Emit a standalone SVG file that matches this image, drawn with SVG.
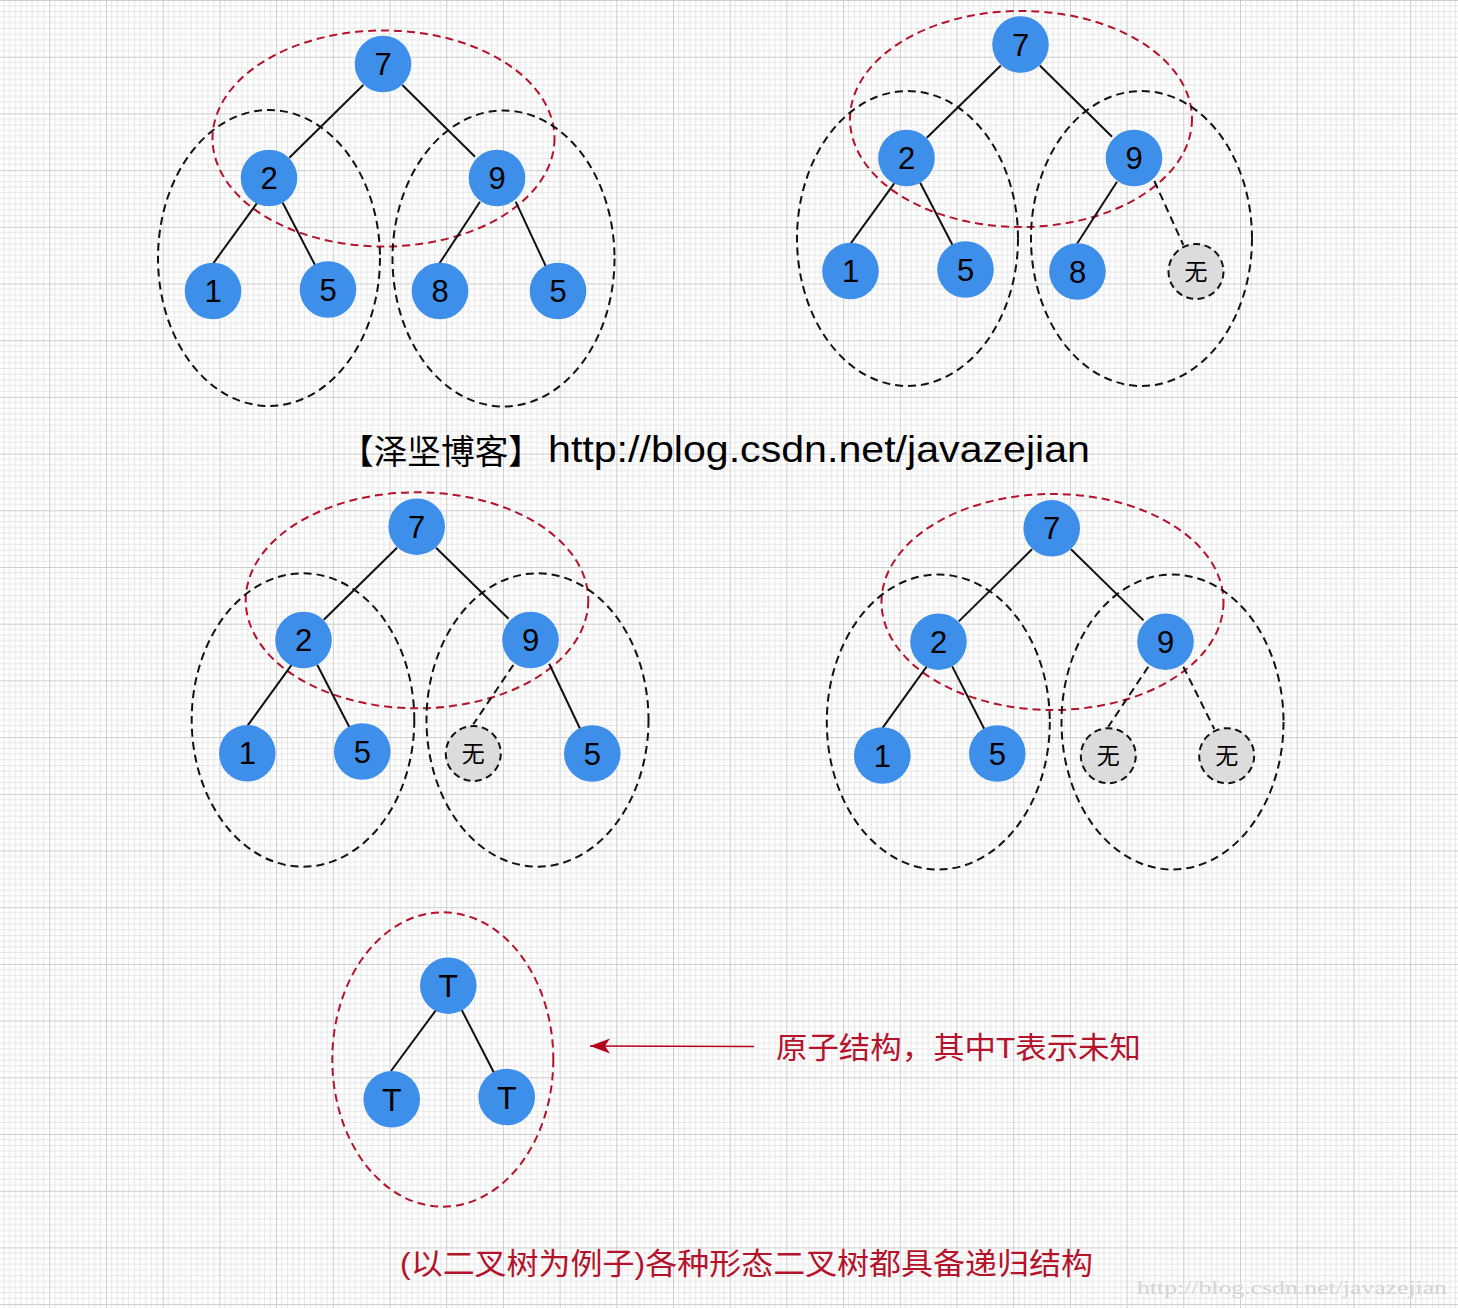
<svg xmlns="http://www.w3.org/2000/svg" width="1458" height="1308" viewBox="0 0 1458 1308">
<defs>
<pattern id="grid" patternUnits="userSpaceOnUse" x="49.3" y="0" width="56.7" height="56.7">
<path d="M5.67 0V56.7M11.34 0V56.7M17.01 0V56.7M22.68 0V56.7M28.35 0V56.7M34.02 0V56.7M39.69 0V56.7M45.36 0V56.7M51.03 0V56.7M0 5.67H56.7M0 11.34H56.7M0 17.01H56.7M0 22.68H56.7M0 28.35H56.7M0 34.02H56.7M0 39.69H56.7M0 45.36H56.7M0 51.03H56.7" stroke="#e6e6e6" stroke-width="1" fill="none"/>
<path d="M0.5 0V56.7M0 0.5H56.7" stroke="#cdcdcd" stroke-width="1" fill="none"/>
</pattern>
<marker id="arr" markerUnits="userSpaceOnUse" markerWidth="22" markerHeight="16" refX="20" refY="7.5" orient="auto">
<path d="M0,0 L20,7.5 L0,15 L5,7.5 Z" fill="#b3001b"/>
</marker>
</defs>
<style>
.bg{fill:url(#grid)}
.ered{fill:none;stroke:#b5122b;stroke-width:2;stroke-dasharray:8 5}
.eblk{fill:none;stroke:#111;stroke-width:2;stroke-dasharray:8 5}
.edge{stroke:#111;stroke-width:2;fill:none}
.edash{stroke:#111;stroke-width:2;fill:none;stroke-dasharray:8 5}
.n{fill:#3d8fe9}
.nul{fill:#dcdcdc;stroke:#111;stroke-width:2;stroke-dasharray:7 4.5}
.lbl{font-family:"Liberation Sans",Arial,sans-serif;font-size:31px;fill:#000;text-anchor:middle}
.t{font-family:"Liberation Sans",Arial,sans-serif;font-size:32px;fill:#000;text-anchor:middle}
.cj{font-family:"Noto Sans CJK SC",sans-serif;font-size:23px;fill:#000;text-anchor:middle}
.red{font-family:"Liberation Sans","Noto Sans CJK SC",sans-serif;fill:#b5122b}
</style>
<rect width="1458" height="1308" fill="#fff"/>
<rect class="bg" width="1458" height="1308"/>

<g id="groups">
<ellipse class="ered" cx="383.5" cy="138.5" rx="171" ry="108"/>
<ellipse class="eblk" cx="269" cy="258" rx="111" ry="148"/>
<ellipse class="eblk" cx="503.5" cy="258.5" rx="111" ry="148"/>
<ellipse class="ered" cx="1021" cy="119" rx="171" ry="108"/>
<ellipse class="eblk" cx="907.5" cy="238.5" rx="110.5" ry="147.5"/>
<ellipse class="eblk" cx="1141.5" cy="238.5" rx="110.5" ry="147.5"/>
<ellipse class="ered" cx="417" cy="600.3" rx="171.3" ry="108"/>
<ellipse class="eblk" cx="303" cy="720" rx="111.3" ry="146.7"/>
<ellipse class="eblk" cx="537.5" cy="720" rx="111" ry="146.7"/>
<ellipse class="ered" cx="1052.5" cy="602" rx="171" ry="108"/>
<ellipse class="eblk" cx="938.3" cy="722" rx="111.5" ry="147.5"/>
<ellipse class="eblk" cx="1172.5" cy="722" rx="111" ry="147.5"/>
<ellipse class="ered" cx="442.8" cy="1059.5" rx="110.5" ry="147.2"/>
</g>

<g id="connectors">
<line class="edge" x1="363.3" y1="85" x2="289.3" y2="157.7"/>
<line class="edge" x1="402.3" y1="85" x2="475" y2="156.7"/>
<line class="edge" x1="258" y1="201.7" x2="213.3" y2="263.3"/>
<line class="edge" x1="282.7" y1="202.7" x2="315" y2="265"/>
<line class="edge" x1="480" y1="201.7" x2="439.5" y2="263.3"/>
<line class="edge" x1="515.7" y1="201.7" x2="546" y2="266.7"/>

<line class="edge" x1="1000.8" y1="65.5" x2="926.8" y2="137.7"/>
<line class="edge" x1="1039.8" y1="65.5" x2="1112" y2="136.7"/>
<line class="edge" x1="895.5" y1="181.7" x2="850.8" y2="243.3"/>
<line class="edge" x1="920.2" y1="182.7" x2="952.5" y2="245"/>
<line class="edge" x1="1117" y1="181.7" x2="1077" y2="243.8"/>
<line class="edash" x1="1154.3" y1="181" x2="1183.3" y2="245"/>

<line class="edge" x1="397" y1="547.7" x2="323.8" y2="619.7"/>
<line class="edge" x1="436" y1="547.7" x2="508.5" y2="618.7"/>
<line class="edge" x1="292.5" y1="663.7" x2="247.6" y2="725.6"/>
<line class="edge" x1="317.2" y1="664.7" x2="349.3" y2="727"/>
<line class="edash" x1="513.3" y1="665" x2="473.3" y2="724.3"/>
<line class="edge" x1="549.2" y1="663.7" x2="580.3" y2="729.2"/>

<line class="edge" x1="1032" y1="549.3" x2="958.8" y2="621.4"/>
<line class="edge" x1="1071" y1="549.3" x2="1143.5" y2="620.4"/>
<line class="edge" x1="927.5" y1="665.4" x2="882.6" y2="727.8"/>
<line class="edge" x1="952.2" y1="666.4" x2="984.3" y2="729"/>
<line class="edash" x1="1148.3" y1="666.7" x2="1108.3" y2="726.7"/>
<line class="edash" x1="1183.3" y1="666.7" x2="1214.3" y2="729"/>

<line class="edge" x1="437.3" y1="1008.3" x2="391" y2="1071"/>
<line class="edge" x1="461.7" y1="1010" x2="494" y2="1072.7"/>

<line x1="754" y1="1046.5" x2="590" y2="1046" stroke="#b3001b" stroke-width="1.6" marker-end="url(#arr)"/>
</g>

<g id="t1-7"><circle class="n" cx="383" cy="64" r="28.3"/><text class="lbl" x="383" y="75">7</text></g>
<g id="t1-2"><circle class="n" cx="269" cy="178" r="28.3"/><text class="lbl" x="269" y="189">2</text></g>
<g id="t1-9"><circle class="n" cx="497" cy="178" r="28.3"/><text class="lbl" x="497" y="189">9</text></g>
<g id="t1-1"><circle class="n" cx="213" cy="291" r="28.3"/><text class="lbl" x="213" y="302">1</text></g>
<g id="t1-5a"><circle class="n" cx="328" cy="289.5" r="28.3"/><text class="lbl" x="328" y="300.5">5</text></g>
<g id="t1-8"><circle class="n" cx="440" cy="291" r="28.3"/><text class="lbl" x="440" y="302">8</text></g>
<g id="t1-5b"><circle class="n" cx="558" cy="291" r="28.3"/><text class="lbl" x="558" y="302">5</text></g>

<g id="t2-7"><circle class="n" cx="1020.5" cy="44.5" r="28.3"/><text class="lbl" x="1020.5" y="55.5">7</text></g>
<g id="t2-2"><circle class="n" cx="906.5" cy="158" r="28.3"/><text class="lbl" x="906.5" y="169">2</text></g>
<g id="t2-9"><circle class="n" cx="1134" cy="158" r="28.3"/><text class="lbl" x="1134" y="169">9</text></g>
<g id="t2-1"><circle class="n" cx="850.5" cy="271" r="28.3"/><text class="lbl" x="850.5" y="282">1</text></g>
<g id="t2-5"><circle class="n" cx="965.5" cy="269.5" r="28.3"/><text class="lbl" x="965.5" y="280.5">5</text></g>
<g id="t2-8"><circle class="n" cx="1077.5" cy="271.5" r="28.3"/><text class="lbl" x="1077.5" y="282.5">8</text></g>
<g id="t2-null"><circle class="nul" cx="1196" cy="271.5" r="27.5"/><text class="cj" x="1196" y="279.8">无</text></g>

<g id="t3-7"><circle class="n" cx="416.7" cy="526.7" r="28.3"/><text class="lbl" x="416.7" y="537.7">7</text></g>
<g id="t3-2"><circle class="n" cx="303.5" cy="640" r="28.3"/><text class="lbl" x="303.5" y="651">2</text></g>
<g id="t3-9"><circle class="n" cx="530.5" cy="640" r="28.3"/><text class="lbl" x="530.5" y="651">9</text></g>
<g id="t3-1"><circle class="n" cx="247.3" cy="753.3" r="28.3"/><text class="lbl" x="247.3" y="764.3">1</text></g>
<g id="t3-5a"><circle class="n" cx="362.3" cy="751.5" r="28.3"/><text class="lbl" x="362.3" y="762.5">5</text></g>
<g id="t3-null"><circle class="nul" cx="473.3" cy="753.5" r="27.5"/><text class="cj" x="473.3" y="761.8">无</text></g>
<g id="t3-5b"><circle class="n" cx="592.3" cy="753.5" r="28.3"/><text class="lbl" x="592.3" y="764.5">5</text></g>

<g id="t4-7"><circle class="n" cx="1051.7" cy="528.3" r="28.3"/><text class="lbl" x="1051.7" y="539.3">7</text></g>
<g id="t4-2"><circle class="n" cx="938.5" cy="641.7" r="28.3"/><text class="lbl" x="938.5" y="652.7">2</text></g>
<g id="t4-9"><circle class="n" cx="1165.5" cy="641.7" r="28.3"/><text class="lbl" x="1165.5" y="652.7">9</text></g>
<g id="t4-1"><circle class="n" cx="882.3" cy="755.5" r="28.3"/><text class="lbl" x="882.3" y="766.5">1</text></g>
<g id="t4-5"><circle class="n" cx="997.3" cy="753.5" r="28.3"/><text class="lbl" x="997.3" y="764.5">5</text></g>
<g id="t4-null1"><circle class="nul" cx="1108.3" cy="755.7" r="27.5"/><text class="cj" x="1108.3" y="764">无</text></g>
<g id="t4-null2"><circle class="nul" cx="1226.7" cy="755.7" r="27.5"/><text class="cj" x="1226.7" y="764">无</text></g>

<g id="t5-root"><circle class="n" cx="448.3" cy="985.7" r="28.3"/><text class="t" x="448.3" y="997.3">T</text></g>
<g id="t5-left"><circle class="n" cx="391.7" cy="1099.3" r="28.3"/><text class="t" x="391.7" y="1110.9">T</text></g>
<g id="t5-right"><circle class="n" cx="506.7" cy="1097" r="28.3"/><text class="t" x="506.7" y="1108.6">T</text></g>

<g id="header">
<text x="340" y="464" font-family="Noto Sans CJK SC,sans-serif" font-size="34" fill="#000" textLength="202" lengthAdjust="spacingAndGlyphs">【泽坚博客】</text>
<text x="548" y="462" font-family="Liberation Sans,Arial,sans-serif" font-size="36" fill="#000" textLength="542" lengthAdjust="spacingAndGlyphs">http://blog.csdn.net/javazejian</text>
</g>
<g id="note">
<text class="red" x="776" y="1058" font-size="30" textLength="365" lengthAdjust="spacingAndGlyphs">原子结构，其中T表示未知</text>
</g>
<g id="caption">
<text class="red" x="400" y="1274" font-size="30" textLength="693" lengthAdjust="spacingAndGlyphs">(以二叉树为例子)各种形态二叉树都具备递归结构</text>
</g>
<g id="watermark">
<text x="1137" y="1294" font-family="Liberation Serif,serif" font-size="18" fill="#d4d4d4" textLength="310" lengthAdjust="spacingAndGlyphs">http://blog.csdn.net/javazejian</text>
</g>
</svg>
